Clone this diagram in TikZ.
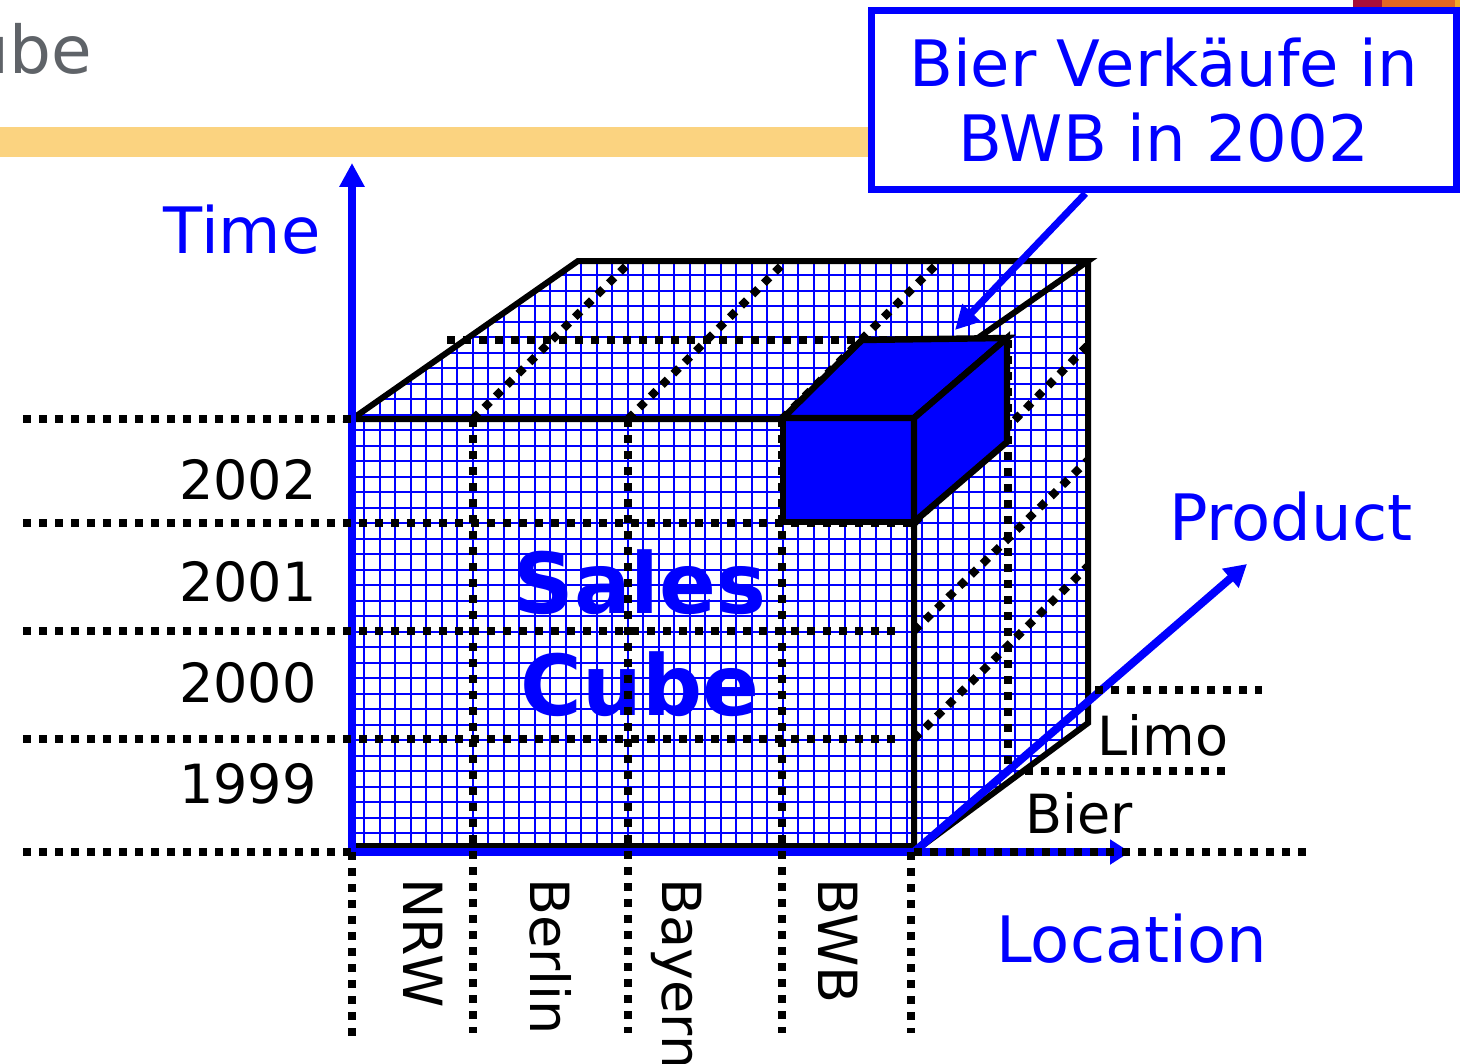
\documentclass[tikz,border=0pt]{standalone}
\usepackage{fontspec}
\setmainfont{DejaVu Sans}
\usetikzlibrary{arrows.meta}

\definecolor{barorange}{RGB}{251,211,128}
\definecolor{titlegray}{RGB}{95,99,104}
\definecolor{logored}{RGB}{168,14,58}
\definecolor{logoorange}{RGB}{226,102,36}
\definecolor{logoyellow}{RGB}{240,170,40}

\begin{document}
\begin{tikzpicture}[x=0.5pt,y=-0.5pt,
  gridline/.style={blue,line width=1pt},
  dotline/.style={black,line width=4pt,dash pattern=on 4pt off 4pt},
  cubeedge/.style={black,line width=3pt},
  axisarrow/.style={blue,line width=4pt},
  smallcube/.style={fill=blue,draw=black,line width=3.2pt},
  bluelbl/.style={blue,inner sep=0pt,font=\fontsize{32}{37.5}\selectfont},
  blacklbl/.style={black,inner sep=0pt,font=\fontsize{27}{32}\selectfont},
  boldlbl/.style={blue,inner sep=0pt,font=\bfseries\fontsize{42}{51}\selectfont}]

\useasboundingbox (0,0) rectangle (1460,1064);
\fill[white] (0,0) rectangle (1460,1064);

% slide header
\fill[barorange] (0,127) rectangle (868,157);
\node[titlegray,inner sep=0pt,anchor=base west,font=\fontsize{33}{40}\selectfont] (title) at (-33,74) {ube};
\fill[logored] (1353,0) rectangle (1382,12);
\fill[logoorange] (1382,0) rectangle (1455,12);
\fill[logoyellow] (1455,0) rectangle (1460,12);

% grid on the cube
\begin{scope}
\clip (352,852) -- (352,419) -- (578,261) -- (1088,261) -- (1088,723) -- (914,852) -- cycle;
\foreach \i in {0,...,48}
  \draw[gridline] ({348.5+15.5*\i},250) -- ({348.5+15.5*\i},860);
\foreach \j in {-7,...,31}
  \draw[gridline] (340,{740-15.5*\j}) -- (1100,{740-15.5*\j});
\end{scope}

\node[boldlbl,anchor=base] (salesword) at (640,613) {Sales};
\node[boldlbl,anchor=base] (cubeword) at (640,715) {Cube};

% cube outline
\draw[cubeedge] (862,419) -- (352,419) -- (578,261) -- (1088,261) -- cycle;
\draw[cubeedge] (1088,261) -- (1088,723) -- (914,852) -- (914,419);
\draw[cubeedge] (352,846) -- (914,846);

% axes
\coordinate (origin) at (352,852);
\coordinate (timetip) at (352,163);
\coordinate (loctip) at (1130,852);
\coordinate (prodbase) at (914,852);
\coordinate (prodtip) at (1247,564);
\draw[axisarrow,{Triangle[width=12pt,length=12pt]}-{Triangle[width=12pt,length=10pt]}] (timetip) -- (origin) -- (loctip);
\draw[axisarrow,-{Triangle[width=12pt,length=11pt]}] (prodbase) -- (prodtip);

% dotted slices
\foreach \yy/\xend in {419/352,523/914,631/895,739/895,852/352}
  \draw[dotline] (23,\yy) -- (\xend,\yy);
\foreach \xx/\ystart/\yend in {352/852/1040,473/419/1033,628/419/1033,782/419/1033,911/852/1033}
  \draw[dotline] (\xx,\ystart) -- (\xx,\yend);
\foreach \xx in {473,628,782}
  \draw[dotline] (\xx,419) -- ++(158,-158);
\foreach \yy/\yend in {523/345,631/460,739/566}
  \draw[dotline] (914,\yy) -- (1088,\yend);
\draw[dotline] (447,340) -- (1008,340);
\draw[dotline] (1008,340) -- (1008,768);
\draw[dotline] (1095,690) -- (1262,690);
\draw[dotline] (1025,771) -- (1230,771);
\draw[dotline] (914,852) -- (1310,852);

% the selected cell
\filldraw[smallcube] (783,418) rectangle (914,522);
\filldraw[smallcube] (783,418) -- (862,340) -- (1007,338) -- (914,418) -- cycle;
\filldraw[smallcube] (914,418) -- (1007,338) -- (1007,442) -- (914,522) -- cycle;

% labels
\node[bluelbl,anchor=base east] (timelbl) at (321,253) {Time};
\node[bluelbl,anchor=base west] (prodlbl) at (1169,540) {Product};
\node[bluelbl,anchor=base west] (loclbl) at (996,962) {Location};

\node[blacklbl,anchor=base east] (y2002) at (317,499) {2002};
\node[blacklbl,anchor=base east] (y2001) at (317,601) {2001};
\node[blacklbl,anchor=base east] (y2000) at (317,702) {2000};
\node[blacklbl,anchor=base east] (y1999) at (317,803) {1999};

\node[blacklbl,anchor=base west,rotate=-90] (nrw) at (403,878) {NRW};
\node[blacklbl,anchor=base west,rotate=-90] (berlin) at (530,878) {Berlin};
\node[blacklbl,anchor=base west,rotate=-90] (bayern) at (662,878) {Bayern};
\node[blacklbl,anchor=base west,rotate=-90] (bwb) at (818,878) {BWB};

\node[blacklbl,anchor=base west] (limo) at (1097,755) {Limo};
\node[blacklbl,anchor=base west] (bier) at (1025,833) {Bier};

% callout
\node[draw=blue,line width=3.5pt,fill=white,inner sep=0pt,minimum width=292.5pt,minimum height=89.5pt,
  align=center,text=blue,font=\fontsize{32}{37.5}\selectfont] (note) at (1163.5,100.5) {Bier Verkäufe in\\BWB in 2002};
\coordinate (notetip) at (955,330);
\draw[blue,line width=3.5pt,-{Triangle[width=12pt,length=12pt]}] (note.230) -- (notetip);
\end{tikzpicture}
\end{document}
